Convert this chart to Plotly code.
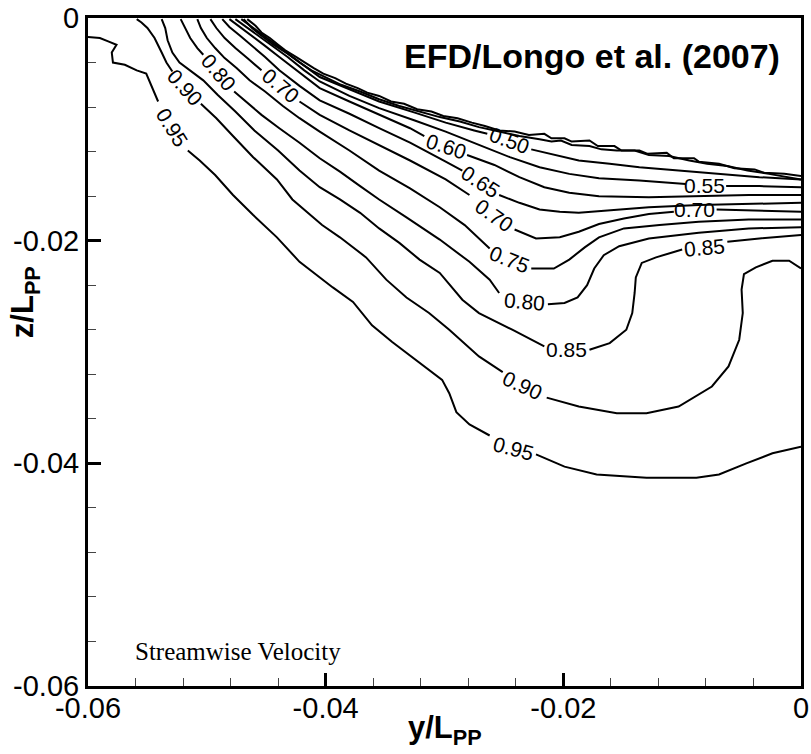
import plotly.graph_objects as go

# ---------------- contour lines (y/Lpp, z/Lpp); None = gap for in-line label ----------------
y_095 = [-0.0600,-0.0590,-0.0583,-0.0576,-0.0580,-0.0579,-0.0569,-0.0559,-0.0551,-0.0546,-0.0541,None,
         -0.0516,-0.0506,-0.0493,-0.0478,-0.0461,-0.0441,-0.0422,-0.0394,-0.0377,-0.0361,-0.0344,-0.0324,
         -0.0302,-0.0296,-0.0290,-0.0279,-0.0262,None,
         -0.0223,-0.0199,-0.0172,-0.0130,-0.0088,-0.0069,-0.0046,-0.0024,0.0]
z_095 = [-0.0017,-0.0018,-0.0021,-0.0024,-0.0031,-0.0040,-0.0042,-0.0047,-0.0050,-0.0063,-0.0075,None,
         -0.0119,-0.0128,-0.0141,-0.0159,-0.0177,-0.0197,-0.0219,-0.0242,-0.0255,-0.0276,-0.0291,-0.0307,
         -0.0325,-0.0337,-0.0354,-0.0365,-0.0375,None,
         -0.0392,-0.0403,-0.0410,-0.0413,-0.0413,-0.0410,-0.0400,-0.0391,-0.0385]

y_090 = [-0.0559,-0.0555,-0.0550,-0.0544,-0.0538,-0.0534,-0.0529,None,
         -0.0505,-0.0492,-0.0478,-0.0461,-0.0441,-0.0428,-0.0403,-0.0388,-0.0366,-0.0349,-0.0332,-0.0313,
         -0.0296,-0.0271,-0.0251,None,
         -0.0214,-0.0187,-0.0155,-0.0130,-0.0103,-0.0075,-0.0061,-0.0052,-0.0049,-0.0050,-0.0048,-0.0038,
         -0.0024,-0.0010,0.0]
z_090 = [-0.0001,-0.0004,-0.0009,-0.0018,-0.0031,-0.0040,-0.0048,None,
         -0.0077,-0.0090,-0.0106,-0.0125,-0.0145,-0.0163,-0.0186,-0.0197,-0.0215,-0.0235,-0.0251,-0.0265,
         -0.0280,-0.0304,-0.0318,None,
         -0.0341,-0.0349,-0.0355,-0.0355,-0.0349,-0.0331,-0.0313,-0.0289,-0.0265,-0.0244,-0.0230,-0.0224,
         -0.0218,-0.0218,-0.0225]

y_085 = [-0.0538,-0.0535,-0.0533,-0.0529,-0.0523,-0.0514,-0.0503,-0.0491,-0.0476,-0.0460,-0.0440,-0.0422,
         -0.0405,-0.0388,-0.0371,-0.0355,-0.0338,-0.0321,-0.0304,-0.0285,-0.0271,-0.0243,-0.0216,None,
         -0.0178,-0.0161,-0.0147,-0.0142,-0.0140,-0.0139,-0.0134,-0.0122,-0.0100,None,
         -0.0062,-0.0035,0.0]
z_085 = [-0.0001,-0.0009,-0.0020,-0.0031,-0.0040,-0.0047,-0.0056,-0.0069,-0.0084,-0.0101,-0.0119,-0.0137,
         -0.0152,-0.0163,-0.0175,-0.0189,-0.0202,-0.0217,-0.0229,-0.0253,-0.0265,-0.0280,-0.0295,None,
         -0.0298,-0.0292,-0.0280,-0.0265,-0.0247,-0.0233,-0.0220,-0.0215,-0.0208,None,
         -0.0201,-0.0198,-0.0195]

y_080 = [-0.0522,-0.0518,-0.0514,-0.0508,-0.0503,None,
         -0.0477,-0.0468,-0.0454,-0.0439,-0.0422,-0.0405,-0.0388,-0.0371,-0.0355,-0.0332,-0.0304,-0.0279,
         -0.0262,-0.0254,None,
         -0.0213,-0.0199,-0.0188,-0.0180,-0.0174,-0.0166,-0.0153,-0.0128,-0.0086,-0.0044,0.0]
z_080 = [-0.0001,-0.0009,-0.0018,-0.0027,-0.0033,None,
         -0.0066,-0.0074,-0.0087,-0.0099,-0.0112,-0.0126,-0.0138,-0.0151,-0.0163,-0.0179,-0.0199,-0.0219,
         -0.0235,-0.0247,None,
         -0.0257,-0.0256,-0.0251,-0.0240,-0.0225,-0.0213,-0.0205,-0.0198,-0.0193,-0.0189,-0.0188]

y_075 = [-0.0508,-0.0505,-0.0500,-0.0493,-0.0485,-0.0475,-0.0464,-0.0451,-0.0436,-0.0422,-0.0405,-0.0380,
         -0.0355,-0.0329,-0.0304,-0.0283,-0.0262,None,
         -0.0227,-0.0208,-0.0195,-0.0182,-0.0170,-0.0149,-0.0119,-0.0086,-0.0044,0.0]
z_075 = [-0.0001,-0.0009,-0.0018,-0.0027,-0.0036,-0.0045,-0.0056,-0.0066,-0.0079,-0.0090,-0.0102,-0.0119,
         -0.0137,-0.0153,-0.0170,-0.0186,-0.0207,None,
         -0.0225,-0.0225,-0.0217,-0.0206,-0.0197,-0.0189,-0.0186,-0.0183,-0.0181,-0.0181]

y_070 = [-0.0497,-0.0492,-0.0485,-0.0476,-0.0466,-0.0454,None,
         -0.0422,-0.0405,-0.0380,-0.0355,-0.0329,-0.0299,-0.0279,None,
         -0.0241,-0.0223,-0.0203,-0.0187,-0.0170,-0.0149,-0.0128,-0.0107,None,
         -0.0071,-0.0035,0.0]
z_070 = [-0.0001,-0.0009,-0.0018,-0.0027,-0.0036,-0.0047,None,
         -0.0075,-0.0087,-0.0101,-0.0114,-0.0128,-0.0145,-0.0159,None,
         -0.0190,-0.0198,-0.0197,-0.0192,-0.0185,-0.0180,-0.0176,-0.0174,None,
         -0.0172,-0.0173,-0.0174]

y_065 = [-0.0487,-0.0481,-0.0472,-0.0462,-0.0451,-0.0439,-0.0422,-0.0405,-0.0380,-0.0355,-0.0329,-0.0299,
         -0.0285,None,
         -0.0254,-0.0237,-0.0220,-0.0203,-0.0187,-0.0161,-0.0128,-0.0086,-0.0044,0.0]
z_065 = [-0.0001,-0.0008,-0.0016,-0.0025,-0.0035,-0.0047,-0.0061,-0.0074,-0.0086,-0.0099,-0.0112,-0.0129,
         -0.0137,None,
         -0.0159,-0.0166,-0.0172,-0.0174,-0.0175,-0.0173,-0.0170,-0.0168,-0.0167,-0.0166]

y_060 = [-0.0481,-0.0472,-0.0462,-0.0451,-0.0439,-0.0422,-0.0405,-0.0380,-0.0355,-0.0329,-0.0317,None,
         -0.0281,-0.0258,-0.0237,-0.0216,-0.0195,-0.0170,-0.0128,-0.0086,-0.0044,0.0]
z_060 = [-0.0001,-0.0008,-0.0016,-0.0025,-0.0035,-0.0049,-0.0063,-0.0075,-0.0087,-0.0099,-0.0106,None,
         -0.0123,-0.0132,-0.0143,-0.0152,-0.0157,-0.0160,-0.0161,-0.0160,-0.0159,-0.0159]

y_055 = [-0.0476,-0.0467,-0.0457,-0.0445,-0.0432,-0.0418,-0.0405,-0.0380,-0.0355,-0.0325,-0.0299,-0.0271,
         -0.0245,-0.0220,-0.0195,-0.0170,-0.0136,-0.0097,None,
         -0.0063,-0.0035,0.0]
z_055 = [-0.0001,-0.0008,-0.0016,-0.0025,-0.0035,-0.0047,-0.0057,-0.0070,-0.0081,-0.0092,-0.0102,-0.0114,
         -0.0125,-0.0134,-0.0140,-0.0144,-0.0146,-0.0149,None,
         -0.0151,-0.0151,-0.0152]

y_050 = [-0.0471,-0.0462,-0.0452,-0.0440,-0.0428,-0.0415,-0.0405,-0.0380,-0.0355,-0.0325,-0.0299,-0.0275,
         -0.0264,None,
         -0.0227,-0.0208,-0.0187,-0.0161,-0.0136,-0.0103,-0.0069,-0.0035,0.0]
z_050 = [-0.0001,-0.0008,-0.0016,-0.0025,-0.0035,-0.0045,-0.0053,-0.0064,-0.0075,-0.0085,-0.0094,-0.0101,
         -0.0104,None,
         -0.0118,-0.0123,-0.0128,-0.0131,-0.0134,-0.0137,-0.0140,-0.0143,-0.0145]

# crowded low-level contours along the hull boundary (jagged edge)
y_hull_a = [-0.0466,-0.0459,-0.0454,-0.0447,-0.0440,-0.0434,-0.0425,-0.0418,-0.0410,-0.0402,-0.0392,-0.0383,
            -0.0373,-0.0365,-0.0355,-0.0345,-0.0334,-0.0323,-0.0311,-0.0301,-0.0289,-0.0277,-0.0266,-0.0254,
            -0.0241,-0.0229,-0.0216,-0.0210,-0.0199,-0.0193,-0.0178,-0.0171,-0.0157,-0.0151,-0.0136,-0.0129,
            -0.0113,-0.0107,-0.0090,-0.0086,-0.0069,-0.0056,-0.0039,-0.0031,-0.0014,0.0]
z_hull_a = [-0.0001,-0.0007,-0.0013,-0.0018,-0.0024,-0.0029,-0.0035,-0.0040,-0.0045,-0.0050,-0.0054,-0.0059,
            -0.0063,-0.0067,-0.0070,-0.0075,-0.0077,-0.0082,-0.0084,-0.0088,-0.0090,-0.0094,-0.0097,-0.0101,
            -0.0102,-0.0105,-0.0104,-0.0108,-0.0108,-0.0111,-0.0110,-0.0115,-0.0115,-0.0119,-0.0119,-0.0122,
            -0.0121,-0.0126,-0.0126,-0.0129,-0.0131,-0.0135,-0.0136,-0.0139,-0.0140,-0.0142]
y_hull_b = [-0.0469,-0.0462,-0.0454,-0.0444,-0.0432,-0.0422,-0.0412,-0.0400,-0.0387,-0.0371,-0.0355,-0.0338,
            -0.0321,-0.0304,-0.0287,-0.0271,-0.0254,-0.0237,-0.0220,-0.0210,-0.0202,-0.0193,-0.0178,-0.0168,
            -0.0155,-0.0140,-0.0128,-0.0111,-0.0094,-0.0079,-0.0062,-0.0045,-0.0027,0.0]
z_hull_b = [-0.0001,-0.0009,-0.0016,-0.0024,-0.0032,-0.0040,-0.0047,-0.0053,-0.0060,-0.0066,-0.0073,-0.0079,
            -0.0084,-0.0089,-0.0093,-0.0098,-0.0102,-0.0106,-0.0109,-0.0111,-0.0110,-0.0114,-0.0115,-0.0118,
            -0.0119,-0.0119,-0.0123,-0.0124,-0.0128,-0.0131,-0.0133,-0.0137,-0.0140,-0.0145]

# ---------------- contour labels ----------------
label_text = ["0.95", "0.90", "0.80", "0.70", "0.60", "0.50", "0.65", "0.70", "0.75", "0.80",
              "0.85", "0.90", "0.95", "0.55", "0.70", "0.85"]
label_y = [-0.0529, -0.0518, -0.0490, -0.0438, -0.0298, -0.0245, -0.0270, -0.0258, -0.0245, -0.0233,
           -0.0197, -0.0234, -0.0242, -0.0081, -0.0090, -0.0081]
label_z = [-0.0098, -0.0062, -0.0049, -0.0061, -0.0115, -0.0110, -0.0147, -0.0177, -0.0217, -0.0255,
           -0.0298, -0.0330, -0.0387, -0.0150, -0.0172, -0.0206]
label_angle = [58, 48, 50, 40, 18, 20, 33, 35, 22, 5, 0, 25, 15, 0, 0, -5]

# axis ticks
tick_vals = [-0.06, -0.04, -0.02, 0.0]
tick_text = ["-0.06", "-0.04", "-0.02", "0"]

lines = [(y_095, z_095), (y_090, z_090), (y_085, z_085), (y_080, z_080), (y_075, z_075),
         (y_070, z_070), (y_065, z_065), (y_060, z_060), (y_055, z_055), (y_050, z_050),
         (y_hull_a, z_hull_a), (y_hull_b, z_hull_b)]

fig = go.Figure()
for ys, zs in lines:
    fig.add_trace(go.Scatter(x=ys, y=zs, mode="lines", line=dict(color="black", width=2),
                             hoverinfo="skip", showlegend=False))

SANS = "Liberation Sans, Arial, sans-serif"
for t, yy, zz, a in zip(label_text, label_y, label_z, label_angle):
    fig.add_annotation(x=yy, y=zz, xref="x", yref="y", text=t, showarrow=False, textangle=a,
                       xanchor="center", yanchor="middle",
                       font=dict(family=SANS, size=21, color="black"))

fig.add_annotation(x=-0.0016, y=-0.0034, xref="x", yref="y", text="<b>EFD/Longo et al. (2007)</b>",
                   showarrow=False, xanchor="right", yanchor="middle",
                   font=dict(family=SANS, size=34, color="black"))
fig.add_annotation(x=-0.0562, y=-0.0569, xref="x", yref="y", text="Streamwise Velocity",
                   showarrow=False, xanchor="left", yanchor="middle",
                   font=dict(family="Liberation Serif, Times New Roman, serif", size=25, color="black"))
fig.add_annotation(x=0.5, y=-0.066, xref="paper", yref="paper", text="<b>y/L<sub>PP</sub></b>",
                   showarrow=False, xanchor="center", yanchor="middle",
                   font=dict(family=SANS, size=31, color="black"))
fig.add_annotation(x=-0.088, y=0.575, xref="paper", yref="paper", text="<b>z/L<sub>PP</sub></b>",
                   showarrow=False, textangle=-90, xanchor="center", yanchor="middle",
                   font=dict(family=SANS, size=31, color="black"))

axis_common = dict(
    tickmode="array", tickvals=tick_vals, ticktext=tick_text,
    ticks="inside", ticklen=13, tickwidth=3, tickcolor="black",
    showline=True, linecolor="black", linewidth=3, mirror=True,
    showgrid=False, zeroline=False, automargin=False,
    tickfont=dict(family=SANS, size=29, color="black"),
    minor=dict(ticks="inside", ticklen=8, tickwidth=1, tickcolor="#444444", dtick=0.004,
               tick0=0, showgrid=False),
)
fig.update_xaxes(range=[-0.06, 0.0], ticklabelstandoff=-6, **axis_common)
fig.update_yaxes(range=[-0.06, 0.0], **axis_common)

fig.update_layout(
    width=811, height=754,
    margin=dict(l=88, r=10, t=18, b=68),
    paper_bgcolor="white", plot_bgcolor="white",
    showlegend=False,
)

fig.write_html("out.html")
